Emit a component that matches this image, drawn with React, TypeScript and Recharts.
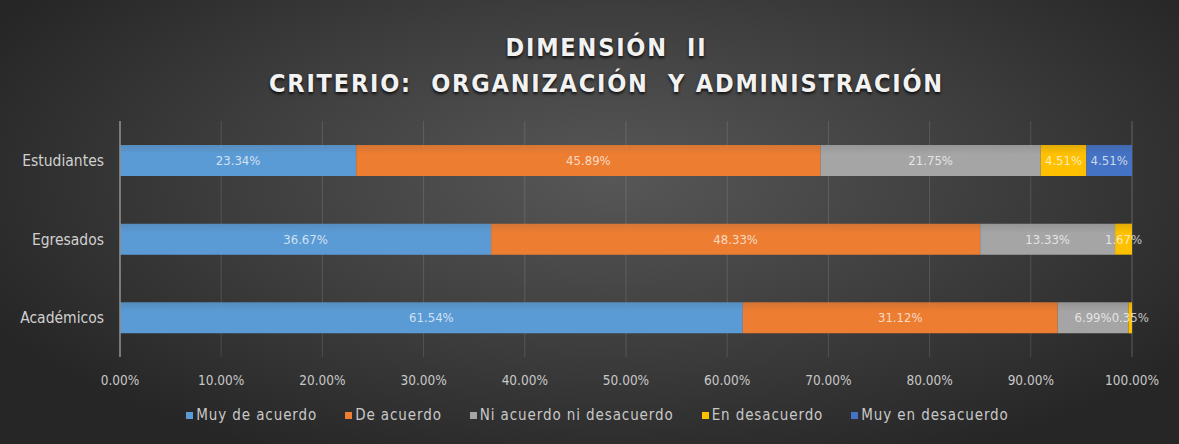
import React from "react";
import {
  Bar,
  BarChart,
  CartesianGrid,
  LabelList,
  XAxis,
  YAxis,
} from "recharts";

const categories = ["Estudiantes", "Egresados", "Académicos"];
const muyDeAcuerdo = [23.34, 36.67, 61.54];
const deAcuerdo = [45.89, 48.33, 31.12];
const niAcuerdo = [21.75, 13.33, 6.99];
const enDesacuerdo = [4.51, 1.67, 0.35];
const muyEnDesacuerdo = [4.51, 0.0, 0.0];
const xTicks = [0, 10, 20, 30, 40, 50, 60, 70, 80, 90, 100];

const SERIES = [
  { key: "muyDeAcuerdo", name: "Muy de acuerdo", color: "#5b9bd5", values: muyDeAcuerdo },
  { key: "deAcuerdo", name: "De acuerdo", color: "#ed7d31", values: deAcuerdo },
  { key: "niAcuerdo", name: "Ni acuerdo ni desacuerdo", color: "#a5a5a5", values: niAcuerdo },
  { key: "enDesacuerdo", name: "En desacuerdo", color: "#ffc000", values: enDesacuerdo },
  { key: "muyEnDesacuerdo", name: "Muy en desacuerdo", color: "#4472c4", values: muyEnDesacuerdo },
];

const data = categories.map((name, i) => {
  const row: Record<string, string | number> = { name };
  SERIES.forEach((s) => (row[s.key] = s.values[i]));
  return row;
});

const FONT = '"Liberation Sans Narrow", "DejaVu Sans Condensed", sans-serif';

export default function App() {
  return (
    <div
      style={{
        position: "absolute",
        left: 0,
        top: 0,
        width: 1179,
        height: 444,
        overflow: "hidden",
        fontFamily: FONT,
        background:
          "radial-gradient(ellipse 60% 70% at 52% 40%, #575757 0%, #3d3d3d 55%, #262626 100%)",
      }}>
      <div
        style={{
          position: "absolute",
          top: 30,
          left: 0,
          width: 1213,
          textAlign: "center",
          color: "#f2f2f2",
          fontWeight: "bold",
          fontSize: 25,
          letterSpacing: 1.8,
          lineHeight: "36px",
          textShadow: "0 2px 3px rgba(0,0,0,0.8)",
          whiteSpace: "pre",
        }}>
        <div>{"DIMENSIÓN  II"}</div>
        <div>{"CRITERIO:  ORGANIZACIÓN  Y ADMINISTRACIÓN"}</div>
      </div>

      <div style={{ position: "absolute", left: 0, top: 0 }}>
        <BarChart
          width={1179}
          height={444}
          data={data}
          layout="vertical"
          barSize={31}
          margin={{ top: 121, right: 47, bottom: 57, left: 0 }}>
          <defs>
            {SERIES.map((s) => (
              <linearGradient key={s.key} id={"g-" + s.key} x1="0" y1="0" x2="0" y2="1">
                <stop offset="0%" stopColor={s.color} stopOpacity={0.85} />
                <stop offset="30%" stopColor={s.color} />
                <stop offset="100%" stopColor={s.color} />
              </linearGradient>
            ))}
          </defs>
          <CartesianGrid horizontal={false} stroke="rgba(255,255,255,0.13)" />
          <XAxis
            type="number"
            domain={[0, 100]}
            ticks={xTicks}
            tickFormatter={(v: number) => `${v.toFixed(2)}%`}
            axisLine={false}
            tickLine={false}
            tickMargin={12}
            height={30}
            tick={{ fill: "#c8c8c8", fontSize: 13.5, fontFamily: FONT }}
            interval={0}
          />
          <YAxis
            type="category"
            dataKey="name"
            width={120}
            axisLine={{ stroke: "#8f8f8f", strokeWidth: 1.5 }}
            tickLine={false}
            tickMargin={10}
            tick={{ fill: "#d0d0d0", fontSize: 15.5, fontFamily: FONT }}
          />
          {SERIES.map((s) => (
            <Bar
              key={s.key}
              dataKey={s.key}
              name={s.name}
              stackId="a"
              fill={`url(#g-${s.key})`}
              isAnimationActive={false}>
              <LabelList
                dataKey={s.key}
                position="center"
                formatter={(v: number) => `${Number(v).toFixed(2)}%`}
                fill="rgba(255,255,255,0.72)"
                fontSize={13}
                fontFamily={FONT}
              />
            </Bar>
          ))}
        </BarChart>
      </div>

      <div
        style={{
          position: "absolute",
          top: 406,
          left: 0,
          width: 1195,
          display: "flex",
          justifyContent: "center",
          gap: 28,
          color: "#c8c8c8",
          fontSize: 15,
          letterSpacing: 0.9,
        }}>
        {SERIES.map((s) => (
          <div key={s.key} style={{ display: "flex", alignItems: "center", gap: 3 }}>
            <span style={{ width: 7, height: 7, background: s.color, display: "inline-block" }} />
            <span>{s.name}</span>
          </div>
        ))}
      </div>
    </div>
  );
}
